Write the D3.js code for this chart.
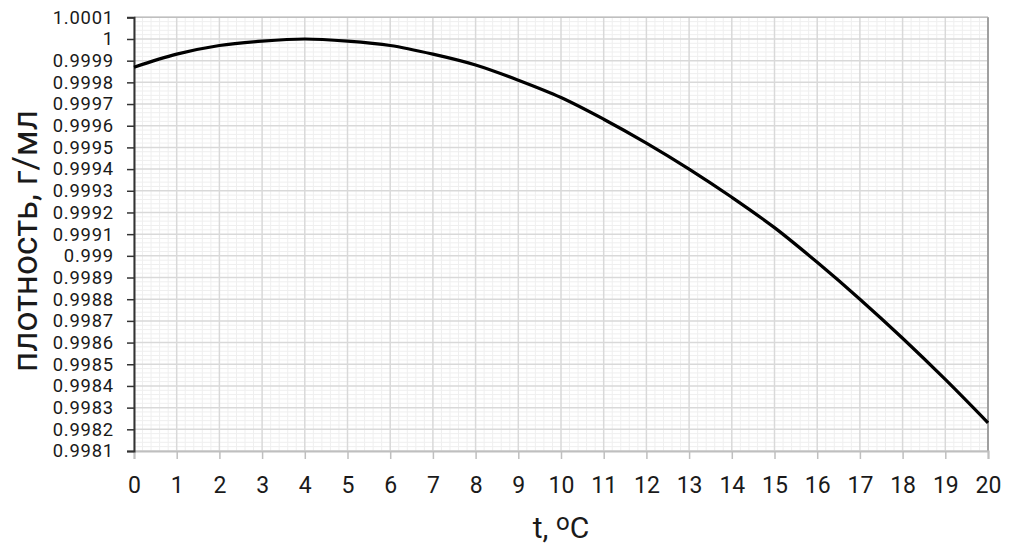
<!DOCTYPE html>
<html><head><meta charset="utf-8">
<script src="https://cdn.jsdelivr.net/npm/d3@7/dist/d3.min.js"></script>
<style>body{margin:0;background:#fff}svg{display:block}text{font-family:Roboto,sans-serif;fill:#1a1a1a}</style>
</head><body><svg id="c" width="1024" height="550"></svg>
<script>
const temps = [0,1,2,3,4,5,6,7,8,9,10,11,12,13,14,15,16,17,18,19,20];
const density = [0.99987,0.99993,0.99997,0.99999,1.00000,0.99999,0.99997,0.99993,0.99988,0.99981,0.99973,0.99963,0.99952,0.99940,0.99927,0.99913,0.99897,0.99880,0.99862,0.99843,0.99823];
const yTickLabels = ["0.9981","0.9982","0.9983","0.9984","0.9985","0.9986","0.9987","0.9988","0.9989","0.999","0.9991","0.9992","0.9993","0.9994","0.9995","0.9996","0.9997","0.9998","0.9999","1","1.0001"];
const xTickLabels = ["0","1","2","3","4","5","6","7","8","9","10","11","12","13","14","15","16","17","18","19","20"];
const yTitle = "плотность, г/мл";

const svg = d3.select("#c");
const L=134, R=988, T=17.3, B=451;
const x = d3.scaleLinear().domain([0,20]).range([L,R]);
const y = d3.scaleLinear().domain([0.9981,1.0001]).range([B,T]);
const yVals = yTickLabels.map(Number);

// minor grid
const g = svg.append("g");
const xMinor = d3.range(0,100).map(i=>i/5).filter(v=>v%1!==0);
const yMinor = d3.range(0,100).map(i=>0.9981+i*0.00002).filter((v,i)=>i%5!==0);
g.selectAll(".vm").data(xMinor).join("line").attr("x1",d=>x(d)).attr("x2",d=>x(d)).attr("y1",T).attr("y2",B).attr("stroke","#efefef").attr("stroke-width",1);
g.selectAll(".hm").data(yMinor).join("line").attr("y1",d=>y(d)).attr("y2",d=>y(d)).attr("x1",L).attr("x2",R).attr("stroke","#efefef").attr("stroke-width",1);
// major grid
g.selectAll(".vM").data(temps).join("line").attr("x1",d=>x(d)).attr("x2",d=>x(d)).attr("y1",T).attr("y2",B).attr("stroke","#d9d9d9").attr("stroke-width",1.5);
g.selectAll(".hM").data(yVals).join("line").attr("y1",d=>y(d)).attr("y2",d=>y(d)).attr("x1",L).attr("x2",R).attr("stroke","#d9d9d9").attr("stroke-width",1.5);

// borders
svg.append("line").attr("x1",L).attr("x2",R).attr("y1",T).attr("y2",T).attr("stroke","#bfbfbf").attr("stroke-width",1.5);
svg.append("line").attr("x1",R).attr("x2",R).attr("y1",T).attr("y2",B).attr("stroke","#a0a0a0").attr("stroke-width",2);

// x axis
const xAxis = svg.append("g").attr("transform",`translate(0,${B})`)
  .call(d3.axisBottom(x).tickValues(temps).tickFormat((d,i)=>xTickLabels[i]).tickSize(8).tickPadding(18));
xAxis.select(".domain").attr("stroke","#bfbfbf").attr("stroke-width",2);
xAxis.selectAll(".tick line").attr("stroke","#bfbfbf").attr("stroke-width",1.5);
xAxis.selectAll("text").attr("font-size",23).attr("font-family","Roboto").attr("fill","#1a1a1a");

// y axis
const yAxis = svg.append("g").attr("transform",`translate(${L},0)`)
  .call(d3.axisLeft(y).tickValues(yVals).tickFormat((d,i)=>yTickLabels[i]).tickSize(7).tickPadding(13));
yAxis.select(".domain").attr("stroke","#333").attr("stroke-width",2);
yAxis.selectAll(".tick line").attr("stroke","#333").attr("stroke-width",1.5);
yAxis.selectAll("text").attr("font-size",18.4).attr("letter-spacing","0.8px").attr("font-family","Roboto").attr("fill","#1a1a1a");

// line
const line = d3.line().x((d,i)=>x(temps[i])).y(d=>y(d)).curve(d3.curveMonotoneX);
svg.append("path").datum(density).attr("d",line).attr("fill","none").attr("stroke","#000").attr("stroke-width",3.2);

// titles
svg.append("text").attr("transform","translate(37,241) rotate(-90)").attr("text-anchor","middle")
  .attr("font-size",35).text(yTitle);
const xt = svg.append("text").attr("x",561).attr("y",538).attr("text-anchor","middle").attr("font-size",30);
xt.append("tspan").text("t, ");
xt.append("tspan").attr("font-size",24).attr("dy",-8).text("o");
xt.append("tspan").attr("dy",8).text("C");
</script></body></html>
